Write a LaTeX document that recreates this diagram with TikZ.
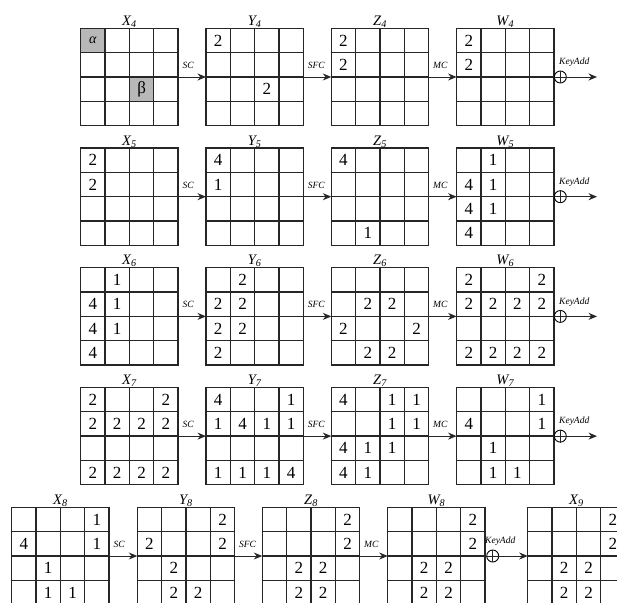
\documentclass[tikz,border=0pt]{standalone}
\usepackage{fontspec}
\setmainfont{Liberation Serif}
\usetikzlibrary{arrows.meta}
\tikzset{
  gridbox/.style={draw=black!85, line width=1.3pt, minimum width=97.4pt, minimum height=97.4pt, inner sep=0pt, outer sep=0pt},
  gridline/.style={draw=black!85, line width=1.3pt},
  cellnum/.style={inner sep=0pt, font=\fontsize{17}{17}\selectfont},
  greek/.style={inner sep=0pt, font=\fontsize{15}{15}\selectfont},
  gtitle/.style={anchor=south, inner sep=0.5pt, font=\fontsize{14.5}{14.5}\selectfont\itshape},
  flow/.style={draw=black!85, line width=0.9pt, -{Stealth[length=8.5pt,width=7pt]}},
  plainline/.style={draw=black!85, line width=0.9pt},
  oplabel/.style={font=\fontsize{9.5}{9.5}\selectfont\itshape, inner sep=0pt},
  xorc/.style={circle, draw=black, line width=0.9pt, minimum size=12pt, inner sep=0pt},
  shadecell/.style={fill=black!28},
}
\newcommand{\stategrid}[5]{%
  \node[gridbox] (#1) at (#2+48.7,#3+48.7) {};
  \foreach \k in {1,2,3} {
    \draw[gridline] (#2+\k*24.35,#3) -- (#2+\k*24.35,#3+97.4);
    \draw[gridline] (#2,#3+\k*24.35) -- (#2+97.4,#3+\k*24.35);
  }
  \foreach \r/\c/\t in {#5} {
    \node[cellnum] (#1-\r-\c) at (#2+\c*24.35+12.175,#3+\r*24.35+12.175) {\t};
  }
  \node[gtitle] (#1-t) at (#1.north) {#4};
}
\newcommand{\opstep}[3]{%
  \draw[flow] (#1.east) -- node[oplabel, pos=0, anchor=south west, xshift=4pt, yshift=8pt] {#3} (#2.west);
}
\begin{document}
\begin{tikzpicture}[x=1pt, y=-1pt]
\useasboundingbox (0,0) rectangle (617,602);
\clip (0,0) rectangle (617,602);

% ---------- row 4 ----------
\fill[shadecell] (80.7,28.3) rectangle ++(24.35,24.35);
\fill[shadecell] (129.4,77.0) rectangle ++(24.35,24.35);
\stategrid{X4}{80.7}{28.3}{X\textsubscript{4}}{0/0/{\fontsize{14}{14}\selectfont\itshape α}, 2/2/β}
\stategrid{Y4}{206.0}{28.3}{Y\textsubscript{4}}{0/0/2, 2/2/2}
\stategrid{Z4}{331.3}{28.3}{Z\textsubscript{4}}{0/0/2, 1/0/2}
\stategrid{W4}{456.6}{28.3}{W\textsubscript{4}}{0/0/2, 1/0/2}
\opstep{X4}{Y4}{SC}
\opstep{Y4}{Z4}{SFC}
\opstep{Z4}{W4}{MC}
\node[xorc] (k4) at (560.3,77.0) {};
\draw[plainline] (k4.north) -- (k4.south) (k4.west) -- (k4.east);
\coordinate (e4) at (597,77.0);
\draw[plainline] (W4.east) -- (k4.west);
\draw[flow] (k4.east) -- (e4);
\node[oplabel, anchor=south west] (l4) at (559,67) {KeyAdd};

% ---------- row 5 ----------
\stategrid{X5}{80.7}{148.0}{X\textsubscript{5}}{0/0/2, 1/0/2}
\stategrid{Y5}{206.0}{148.0}{Y\textsubscript{5}}{0/0/4, 1/0/1}
\stategrid{Z5}{331.3}{148.0}{Z\textsubscript{5}}{0/0/4, 3/1/1}
\stategrid{W5}{456.6}{148.0}{W\textsubscript{5}}{0/1/1, 1/0/4, 1/1/1, 2/0/4, 2/1/1, 3/0/4}
\opstep{X5}{Y5}{SC}
\opstep{Y5}{Z5}{SFC}
\opstep{Z5}{W5}{MC}
\node[xorc] (k5) at (560.3,196.7) {};
\draw[plainline] (k5.north) -- (k5.south) (k5.west) -- (k5.east);
\coordinate (e5) at (597,196.7);
\draw[plainline] (W5.east) -- (k5.west);
\draw[flow] (k5.east) -- (e5);
\node[oplabel, anchor=south west] (l5) at (559,186.7) {KeyAdd};

% ---------- row 6 ----------
\stategrid{X6}{80.7}{267.7}{X\textsubscript{6}}{0/1/1, 1/0/4, 1/1/1, 2/0/4, 2/1/1, 3/0/4}
\stategrid{Y6}{206.0}{267.7}{Y\textsubscript{6}}{0/1/2, 1/0/2, 1/1/2, 2/0/2, 2/1/2, 3/0/2}
\stategrid{Z6}{331.3}{267.7}{Z\textsubscript{6}}{1/1/2, 1/2/2, 2/0/2, 2/3/2, 3/1/2, 3/2/2}
\stategrid{W6}{456.6}{267.7}{W\textsubscript{6}}{0/0/2, 0/3/2, 1/0/2, 1/1/2, 1/2/2, 1/3/2, 3/0/2, 3/1/2, 3/2/2, 3/3/2}
\opstep{X6}{Y6}{SC}
\opstep{Y6}{Z6}{SFC}
\opstep{Z6}{W6}{MC}
\node[xorc] (k6) at (560.3,316.4) {};
\draw[plainline] (k6.north) -- (k6.south) (k6.west) -- (k6.east);
\coordinate (e6) at (597,316.4);
\draw[plainline] (W6.east) -- (k6.west);
\draw[flow] (k6.east) -- (e6);
\node[oplabel, anchor=south west] (l6) at (559,306.4) {KeyAdd};

% ---------- row 7 ----------
\stategrid{X7}{80.7}{387.4}{X\textsubscript{7}}{0/0/2, 0/3/2, 1/0/2, 1/1/2, 1/2/2, 1/3/2, 3/0/2, 3/1/2, 3/2/2, 3/3/2}
\stategrid{Y7}{206.0}{387.4}{Y\textsubscript{7}}{0/0/4, 0/3/1, 1/0/1, 1/1/4, 1/2/1, 1/3/1, 3/0/1, 3/1/1, 3/2/1, 3/3/4}
\stategrid{Z7}{331.3}{387.4}{Z\textsubscript{7}}{0/0/4, 0/2/1, 0/3/1, 1/2/1, 1/3/1, 2/0/4, 2/1/1, 2/2/1, 3/0/4, 3/1/1}
\stategrid{W7}{456.6}{387.4}{W\textsubscript{7}}{0/3/1, 1/0/4, 1/3/1, 2/1/1, 3/1/1, 3/2/1}
\opstep{X7}{Y7}{SC}
\opstep{Y7}{Z7}{SFC}
\opstep{Z7}{W7}{MC}
\node[xorc] (k7) at (560.3,436.1) {};
\draw[plainline] (k7.north) -- (k7.south) (k7.west) -- (k7.east);
\coordinate (e7) at (597,436.1);
\draw[plainline] (W7.east) -- (k7.west);
\draw[flow] (k7.east) -- (e7);
\node[oplabel, anchor=south west] (l7) at (559,426.1) {KeyAdd};

% ---------- row 8 ----------
\stategrid{X8}{11.7}{507.3}{X\textsubscript{8}}{0/3/1, 1/0/4, 1/3/1, 2/1/1, 3/1/1, 3/2/1}
\stategrid{Y8}{137.3}{507.3}{Y\textsubscript{8}}{0/3/2, 1/0/2, 1/3/2, 2/1/2, 3/1/2, 3/2/2}
\stategrid{Z8}{262.3}{507.3}{Z\textsubscript{8}}{0/3/2, 1/3/2, 2/1/2, 2/2/2, 3/1/2, 3/2/2}
\stategrid{W8}{387.7}{507.3}{W\textsubscript{8}}{0/3/2, 1/3/2, 2/1/2, 2/2/2, 3/1/2, 3/2/2}
\stategrid{X9}{527.7}{507.3}{X\textsubscript{9}}{0/3/2, 1/3/2, 2/1/2, 2/2/2, 3/1/2, 3/2/2}
\opstep{X8}{Y8}{SC}
\opstep{Y8}{Z8}{SFC}
\opstep{Z8}{W8}{MC}
\node[xorc] (k8) at (492.7,556.0) {};
\draw[plainline] (k8.north) -- (k8.south) (k8.west) -- (k8.east);
\draw[plainline] (W8.east) -- (k8.west);
\draw[flow] (k8.east) -- (X9.west);
\node[oplabel, anchor=south west] (l8) at (485,546) {KeyAdd};
\end{tikzpicture}
\end{document}
